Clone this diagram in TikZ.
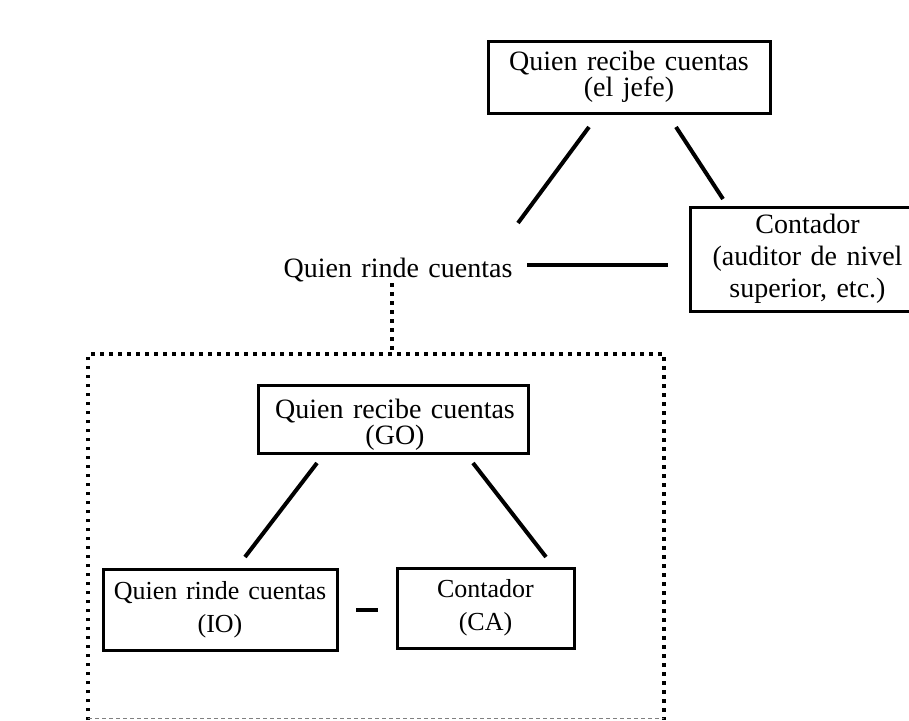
\documentclass[tikz,border=0pt]{standalone}
\usepackage{fontspec}
\setmainfont[WordSpace=1.35]{Liberation Serif}
\begin{document}
\begin{tikzpicture}[x=1pt,y=-1pt,
  every node/.style={align=center, inner sep=0pt},
  big/.style={font=\fontsize{28}{26}\selectfont},
  mid/.style={font=\fontsize{28}{32}\selectfont},
  small/.style={font=\fontsize{26}{33}\selectfont},
  box/.style={draw, line width=3pt},
  conn/.style={line width=4pt},
  dots/.style={line width=3.5pt, dash pattern=on 3.5pt off 5.5pt}]
\useasboundingbox (0,0) rectangle (909,720);
\clip (0,0) rectangle (909,720);
% nodes
\node[box, big, minimum width=282pt, minimum height=72pt] (top) at (629,77) {Quien recibe cuentas\\(el jefe)};
\node[mid, anchor=base] (rend) at (398,277) {Quien rinde cuentas};
\node[box, mid, minimum width=235pt, minimum height=104pt] (cont) at (807.5,259) {Contador\\(auditor de nivel\\superior, etc.)};
\node[box, minimum width=270pt, minimum height=68pt] (go) at (393,419) {};
\node[big] (gotext) at (395,425) {Quien recibe cuentas\\(GO)};
\node[box, small, minimum width=234pt, minimum height=81pt] (io) at (220,609.5) {Quien rinde cuentas\\(IO)};
\node[box, small, minimum width=177pt, minimum height=80pt] (ca) at (485.5,608) {Contador\\(CA)};
% connector end points
\coordinate (a1) at (589,127);
\coordinate (a2) at (518,223);
\coordinate (b1) at (676,127);
\coordinate (b2) at (723,199);
\coordinate (h1) at (527,265);
\coordinate (h2) at (668,265);
\coordinate (c1) at (317,463);
\coordinate (c2) at (245,557);
\coordinate (d1) at (473,463);
\coordinate (d2) at (546,557);
\coordinate (e1) at (356,610);
\coordinate (e2) at (378,610);
\coordinate (v1) at (392,283);
\coordinate (v2) at (392,354);
\coordinate (r1) at (88,354);
\coordinate (r2) at (664,354);
\coordinate (r3) at (664,720);
\coordinate (r4) at (88,720);
% connectors
\draw[conn] (a1) -- (a2);
\draw[conn] (b1) -- (b2);
\draw[conn] (h1) -- (h2);
\draw[conn] (c1) -- (c2);
\draw[conn] (d1) -- (d2);
\draw[conn] (e1) -- (e2);
\draw[dots] (v1) -- (v2);
\draw[dots] (r4) -- (r1) -- (r2) -- (r3);
\draw[gray, line width=1pt, dash pattern=on 4pt off 3pt] (88,718.5) -- (664,718.5);
\end{tikzpicture}
\end{document}
